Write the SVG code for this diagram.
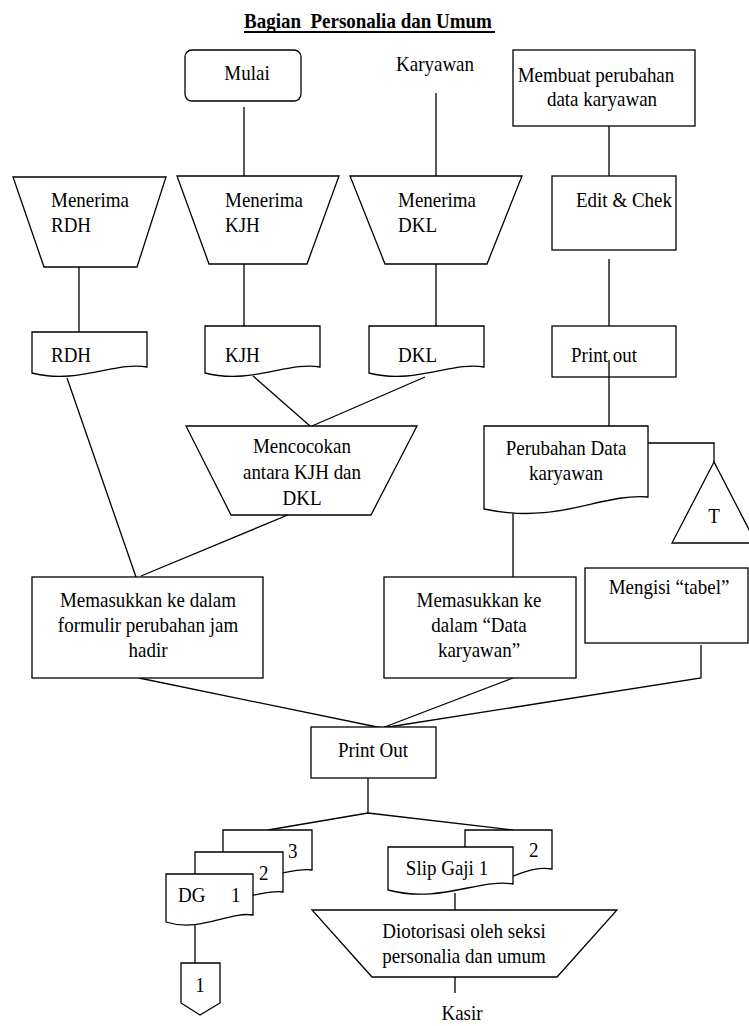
<svg xmlns="http://www.w3.org/2000/svg" width="749" height="1026" viewBox="0 0 749 1026">
  <style>
    .s { fill: #fff; stroke: #000; stroke-width: 1.3; }
    .ln { fill: none; stroke: #000; stroke-width: 1.3; }
    .t { font-family: "Liberation Serif", "Times New Roman", serif; font-size: 19px; fill: #000; }
    .c { text-anchor: middle; }
    .title { font-family: "Liberation Serif", "Times New Roman", serif; font-size: 19px; font-weight: bold; fill: #000; }
  </style>
  <rect width="749" height="1026" fill="#fff"/>

  <!-- heading (text is drawn slightly taller than wide) -->
  <g id="title">
    <text class="title" transform="translate(244 28) scale(1 1.12)" xml:space="preserve">Bagian  Personalia dan Umum</text>
    <line x1="244" y1="32" x2="495" y2="32" stroke="#000" stroke-width="1.8"/>
  </g>

  <!-- connectors -->
  <g id="connectors" class="ln">
    <line x1="244" y1="107" x2="244" y2="176"/>
    <line x1="436" y1="93" x2="436" y2="176"/>
    <line x1="609" y1="126" x2="609" y2="176"/>
    <line x1="79" y1="267" x2="79" y2="333"/>
    <line x1="244" y1="264" x2="244" y2="333"/>
    <line x1="436" y1="259" x2="436" y2="326"/>
    <line x1="609" y1="259" x2="609" y2="326"/>
    <line x1="609" y1="360" x2="609" y2="426"/>
    <line x1="253" y1="376" x2="310" y2="426"/>
    <line x1="425" y1="377" x2="312" y2="426"/>
    <line x1="67" y1="378" x2="136" y2="577"/>
    <line x1="295" y1="512" x2="141" y2="576"/>
    <polyline points="642,443 714,443 714,462"/>
    <line x1="513" y1="512" x2="513" y2="577"/>
    <line x1="139" y1="678" x2="382" y2="728"/>
    <line x1="513" y1="678" x2="382" y2="728"/>
    <polyline points="701,645 701,678 382,728"/>
    <line x1="368" y1="778" x2="368" y2="813"/>
    <polyline points="268,830 368,813 513,830"/>
    <line x1="195" y1="924" x2="195" y2="963"/>
    <line x1="455" y1="893" x2="455" y2="910"/>
    <line x1="455" y1="977" x2="455" y2="993"/>
  </g>

  <!-- top row -->
  <g id="mulai">
    <rect class="s" x="185" y="50" width="116" height="51" rx="7"/>
    <text class="t c" transform="translate(247 80) scale(1 1.12)">Mulai</text>
  </g>
  <g id="karyawan">
    <text class="t c" transform="translate(435 71) scale(1 1.12)">Karyawan</text>
  </g>
  <g id="membuat-perubahan">
    <rect class="s" x="513" y="50" width="182" height="76"/>
    <text class="t c" transform="translate(596 82) scale(1 1.12)">Membuat perubahan</text>
    <text class="t c" transform="translate(602 106) scale(1 1.12)">data karyawan</text>
  </g>

  <!-- manual operations -->
  <g id="menerima-rdh">
    <polygon class="s" points="13,177 166,177 137,267 44,267"/>
    <text class="t" transform="translate(51 207) scale(1 1.12)">Menerima</text>
    <text class="t" transform="translate(51 232) scale(1 1.12)">RDH</text>
  </g>
  <g id="menerima-kjh">
    <polygon class="s" points="177,176 339,176 307,264 209,264"/>
    <text class="t" transform="translate(225 207) scale(1 1.12)">Menerima</text>
    <text class="t" transform="translate(225 232) scale(1 1.12)">KJH</text>
  </g>
  <g id="menerima-dkl">
    <polygon class="s" points="350,176 522,176 487,264 385,264"/>
    <text class="t" transform="translate(398 207) scale(1 1.12)">Menerima</text>
    <text class="t" transform="translate(398 232) scale(1 1.12)">DKL</text>
  </g>
  <g id="edit-chek">
    <rect class="s" x="552" y="176" width="124" height="74"/>
    <text class="t" transform="translate(576 207) scale(1 1.12)">Edit &amp; Chek</text>
  </g>

  <!-- documents -->
  <g id="doc-rdh">
    <path class="s" d="M32,332 H147 V367 C116,361 78,385 32,373 Z"/>
    <text class="t" transform="translate(51 362) scale(1 1.12)">RDH</text>
  </g>
  <g id="doc-kjh">
    <path class="s" d="M205,326 H320 V367 C289,361 251,385 205,373 Z"/>
    <text class="t" transform="translate(225 362) scale(1 1.12)">KJH</text>
  </g>
  <g id="doc-dkl">
    <path class="s" d="M369,326 H484 V367 C453,361 415,385 369,373 Z"/>
    <text class="t" transform="translate(398 362) scale(1 1.12)">DKL</text>
  </g>
  <g id="print-out-1">
    <rect class="s" x="552" y="326" width="124" height="51"/>
    <text class="t" transform="translate(571 362) scale(1 1.12)">Print out</text>
    <line class="ln" x1="609" y1="360" x2="609" y2="377"/>
  </g>

  <g id="mencocokan">
    <polygon class="s" points="186,426 417,426 371,515 231,515"/>
    <text class="t c" transform="translate(302 453) scale(1 1.12)">Mencocokan</text>
    <text class="t c" transform="translate(302 479) scale(1 1.12)">antara KJH dan</text>
    <text class="t c" transform="translate(302 505) scale(1 1.12)">DKL</text>
  </g>
  <g id="perubahan-data">
    <path class="s" d="M484,426 H648 V497 C600,493 560,525 484,509 Z"/>
    <text class="t c" transform="translate(566 455) scale(1 1.12)">Perubahan Data</text>
    <text class="t c" transform="translate(566 480) scale(1 1.12)">karyawan</text>
  </g>
  <g id="arsip-t">
    <polygon class="s" points="714,462 672,543 756,543"/>
    <text class="t c" transform="translate(714 523) scale(1 1.12)">T</text>
  </g>

  <!-- processes -->
  <g id="memasukkan-formulir">
    <rect class="s" x="32" y="577" width="231" height="101"/>
    <text class="t c" transform="translate(148 607) scale(1 1.12)">Memasukkan ke dalam</text>
    <text class="t c" transform="translate(148 632) scale(1 1.12)">formulir perubahan jam</text>
    <text class="t c" transform="translate(148 657) scale(1 1.12)">hadir</text>
  </g>
  <g id="memasukkan-data">
    <rect class="s" x="384" y="577" width="192" height="101"/>
    <text class="t c" transform="translate(479 607) scale(1 1.12)">Memasukkan ke</text>
    <text class="t c" transform="translate(479 632) scale(1 1.12)">dalam “Data</text>
    <text class="t c" transform="translate(479 657) scale(1 1.12)">karyawan”</text>
  </g>
  <g id="mengisi-tabel">
    <rect class="s" x="585" y="568" width="163" height="75"/>
    <text class="t c" transform="translate(669 594) scale(1 1.12)">Mengisi “tabel”</text>
  </g>

  <g id="print-out-2">
    <rect class="s" x="311" y="727" width="125" height="51"/>
    <text class="t c" transform="translate(373 757) scale(1 1.12)">Print Out</text>
  </g>

  <!-- DG stack -->
  <g id="dg">
    <path class="s" d="M223,830 H312 V870 C290,867 270,882 223,876 Z"/>
    <text class="t" transform="translate(288 858) scale(1 1.12)">3</text>
    <path class="s" d="M195,852 H283 V892 C262,889 242,904 195,898 Z"/>
    <text class="t" transform="translate(259 880) scale(1 1.12)">2</text>
    <path class="s" d="M166,874 H253 V915 C230,911 200,933 166,922 Z"/>
    <text class="t" transform="translate(178 902) scale(1 1.12)">DG</text>
    <text class="t" transform="translate(231 902) scale(1 1.12)">1</text>
  </g>
  <g id="connector-1">
    <polygon class="s" points="181,963 220,963 220,1003 200,1015 181,1003"/>
    <text class="t c" transform="translate(200 992) scale(1 1.12)">1</text>
  </g>

  <!-- slip gaji stack -->
  <g id="slip-gaji">
    <path class="s" d="M465,830 H552 V869 C535,866 520,874 513,876 L465,876 Z"/>
    <text class="t" transform="translate(529 857) scale(1 1.12)">2</text>
    <path class="s" d="M388,847 H513 V884 C480,878 440,904 388,890 Z"/>
    <text class="t c" transform="translate(447 875) scale(1 1.12)">Slip Gaji 1</text>
  </g>

  <g id="diotorisasi">
    <polygon class="s" points="312,910 617,910 557,977 372,977"/>
    <text class="t c" transform="translate(464 938) scale(1 1.12)">Diotorisasi oleh seksi</text>
    <text class="t c" transform="translate(464 963) scale(1 1.12)">personalia dan umum</text>
  </g>
  <g id="kasir">
    <text class="t c" transform="translate(462 1020) scale(1 1.12)">Kasir</text>
  </g>
</svg>
